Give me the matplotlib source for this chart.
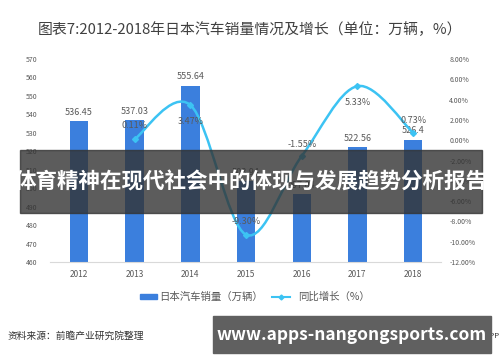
import matplotlib.pyplot as plt
import numpy as np
from matplotlib.path import Path
from matplotlib.patches import PathPatch, Rectangle

plt.rcParams['font.family'] = ['Noto Sans CJK SC', 'DejaVu Sans']

years = ['2012', '2013', '2014', '2015', '2016', '2017', '2018']
sales = [536.45, 537.03, 555.64, 503.94, 497.04, 522.56, 526.4]
growth_years = ['2013', '2014', '2015', '2016', '2017', '2018']
growth = [0.11, 3.47, -9.30, -1.55, 5.33, 0.73]
left_ticks = list(range(460, 571, 10))
right_ticks = list(range(-12, 9, 2))

bar_color = '#3b7fdd'
line_color = '#3cc3f3'
text_gray = '#595959'

fig = plt.figure(figsize=(5, 3.62), dpi=100)
ax = fig.add_axes([0.1, 0.276, 0.782, 0.561])
x = np.arange(len(years))
ax.bar(x, [s - 460 for s in sales], bottom=460, width=0.33, color=bar_color, zorder=2)
ax.set_ylim(460, 570)
ax.set_xlim(-0.52, 6.5)
ax.set_yticks(left_ticks)
ax.set_xticks(x)
ax.set_xticklabels(years)
ax.tick_params(axis='y', labelsize=5, colors=text_gray, length=0, pad=9)
ax.tick_params(axis='x', labelsize=6, colors=text_gray, length=0, pad=6)
for s in ['top', 'right', 'left']:
    ax.spines[s].set_visible(False)
ax.spines['bottom'].set_color('#d9d9d9')
for xi, v in zip(x, sales):
    ax.text(xi, v + 2.2, f'{v:g}', ha='center', va='bottom', fontsize=6.5, color=text_gray)

ax2 = ax.twinx()
ax2.set_ylim(-12, 8)
ax2.set_yticks(right_ticks)
ax2.set_yticklabels([f'{t:.2f}%' for t in right_ticks])
ax2.tick_params(axis='y', labelsize=5, colors=text_gray, length=0, pad=6)
for s in ax2.spines.values():
    s.set_visible(False)

# smooth line drawn as bezier through the points
gx = np.array([years.index(g) for g in growth_years], dtype=float)
gy = np.array(growth)
px = np.concatenate([[gx[0]], gx, [gx[-1]]])
py = np.concatenate([[gy[0]], gy, [gy[-1]]])
verts = [(gx[0], gy[0])]
codes = [Path.MOVETO]
t = 1 / 6
for i in range(1, len(px) - 2):
    c1 = (px[i] + (px[i + 1] - px[i - 1]) * t, py[i] + (py[i + 1] - py[i - 1]) * t)
    c2 = (px[i + 1] - (px[i + 2] - px[i]) * t, py[i + 1] - (py[i + 2] - py[i]) * t)
    verts += [c1, c2, (px[i + 1], py[i + 1])]
    codes += [Path.CURVE4] * 3
ax2.add_patch(PathPatch(Path(verts, codes), fill=False, edgecolor=line_color, lw=1.8, zorder=3))
ax2.plot(gx, gy, 'D', color=line_color, ms=3, zorder=4)
offsets = [1.3, -1.6, 1.3, 1.1, -1.6, 1.2]
for xi, v, o in zip(gx, gy, offsets):
    ax2.text(xi, v + o, f'{v:.2f}%', ha='center', va='center', fontsize=6.5, color=text_gray)

fig.text(0.076, 0.918, '图表7:2012-2018年日本汽车销量情况及增长（单位：万辆，%）',
         fontsize=10.7, color='#404040', va='center')

# legend
fig.patches.append(Rectangle((0.28, 0.173), 0.034, 0.014, transform=fig.transFigure,
                             color=bar_color, figure=fig))
fig.text(0.318, 0.18, '日本汽车销量（万辆）', fontsize=7.5, color=text_gray, va='center')
fig.lines.append(plt.Line2D([0.543, 0.58], [0.18, 0.18], transform=fig.transFigure,
                            color=line_color, lw=1.5))
fig.lines.append(plt.Line2D([0.5615], [0.18], transform=fig.transFigure,
                            color=line_color, marker='D', ms=2.5))
fig.text(0.596, 0.18, '同比增长（%）', fontsize=7.5, color=text_gray, va='center')

fig.text(0.016, 0.072, '资料来源：前瞻产业研究院整理', fontsize=7, color='#333333',
         style='italic', va='center')
fig.text(0.999, 0.072, '前瞻经济学人APP', fontsize=5.5, color='#333333', ha='right', va='center')

# overlay banners
fig.patches.append(Rectangle((0.04, 0.412), 0.924, 0.174, transform=fig.transFigure,
                             color='#333333', alpha=0.8, figure=fig, zorder=10))
fig.text(0.502, 0.498, '体育精神在现代社会中的体现与发展趋势分析报告', fontsize=15.5,
         color='white', fontweight='bold', ha='center', va='center', zorder=11)
fig.patches.append(Rectangle((0.426, 0.025), 0.556, 0.102, transform=fig.transFigure,
                             color='#606060', figure=fig, zorder=10))
fig.text(0.704, 0.075, 'www.apps-nangongsports.com', fontsize=12.5, color='white',
         fontweight='bold', ha='center', va='center', zorder=11)

fig.savefig('out.png', dpi=100)
